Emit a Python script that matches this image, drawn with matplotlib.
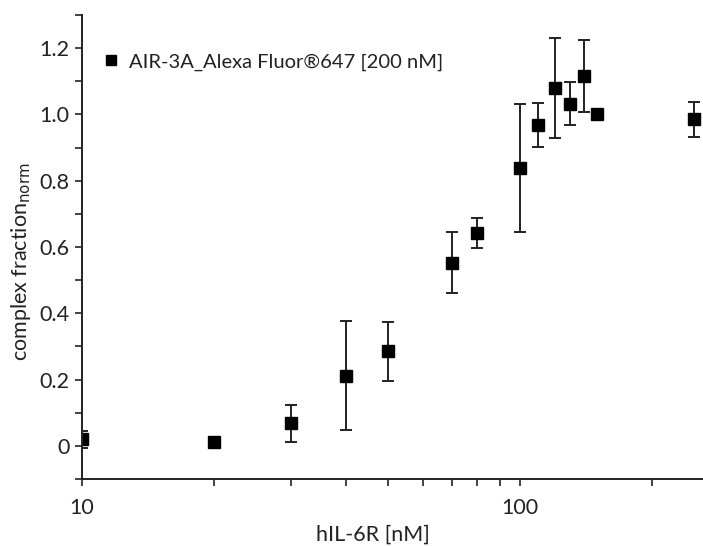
import matplotlib
matplotlib.use("Agg")
import matplotlib.pyplot as plt
from matplotlib.ticker import FixedLocator, NullFormatter, FixedFormatter
from matplotlib.lines import Line2D
import numpy as np

plt.rcParams['font.family'] = ['Lato', 'DejaVu Sans']

conc = [10, 20, 30, 40, 50, 70, 80, 100, 110, 120, 130, 140, 150, 250]
frac = [0.02, 0.011, 0.068, 0.212, 0.285, 0.553, 0.641, 0.838, 0.968, 1.080, 1.032, 1.116, 1.000, 0.985]
err = [0.025, 0.008, 0.056, 0.165, 0.090, 0.093, 0.045, 0.192, 0.065, 0.152, 0.065, 0.110, 0.0, 0.052]
legend_label = "AIR-3A_Alexa Fluor®647 [200 nM]"
yticks = [0, 0.2, 0.4, 0.6, 0.8, 1.0, 1.2]
yticklabels = ["0", "0.2", "0.4", "0.6", "0.8", "1.0", "1.2"]

fig = plt.figure(figsize=(7.03, 5.46), dpi=100)
ax = fig.add_axes([82/703, 1-479/546, 1-82/703, (479-15)/546])

ax.errorbar(conc, frac, yerr=err, fmt='s', color='black', ms=8.5,
            ecolor='#222222', elinewidth=1.4, capsize=4.5, capthick=1.4)

ax.set_xscale('log')
ax.set_xlim(10, 262)
ax.set_ylim(-0.1, 1.3)

ax.xaxis.set_major_locator(FixedLocator([10, 100]))
ax.xaxis.set_major_formatter(FixedFormatter(["10", "100"]))
ax.xaxis.set_minor_locator(FixedLocator([20, 30, 40, 50, 60, 70, 80, 90, 200]))
ax.xaxis.set_minor_formatter(NullFormatter())
ax.yaxis.set_major_locator(FixedLocator(yticks))
ax.yaxis.set_major_formatter(FixedFormatter(yticklabels))
ax.yaxis.set_minor_locator(FixedLocator([-0.1, 0.1, 0.3, 0.5, 0.7, 0.9, 1.1, 1.3]))

for s in ['top', 'right']:
    ax.spines[s].set_visible(False)
for s in ['left', 'bottom']:
    ax.spines[s].set_linewidth(1.4)
    ax.spines[s].set_color('#222222')

ax.tick_params(which='both', direction='out', length=5, width=1.2, color='#222222',
               labelsize=15.5, pad=4, labelcolor='#222222')
ax.tick_params(axis='x', which='major', pad=9)

ax.set_ylabel("complex fraction$_{\\mathrm{norm}}$", fontsize=15.5, color='#222222')
ax.yaxis.set_label_coords(-(82-33)/(703-82), (479-262)/(479-15))
fig.text(373/703, 1/546, "hIL-6R [nM]", fontsize=15.5, ha='center', va='bottom', color='#222222')

handle = Line2D([], [], linestyle='none', marker='s', color='black', markersize=7)
leg = ax.legend([handle], [legend_label], loc='upper left', bbox_to_anchor=(0.015, 0.935),
                frameon=False, fontsize=14.5, handletextpad=0.25, borderaxespad=0,
                handlelength=1.2, labelcolor='#222222')

fig.savefig("out.png", dpi=100)
